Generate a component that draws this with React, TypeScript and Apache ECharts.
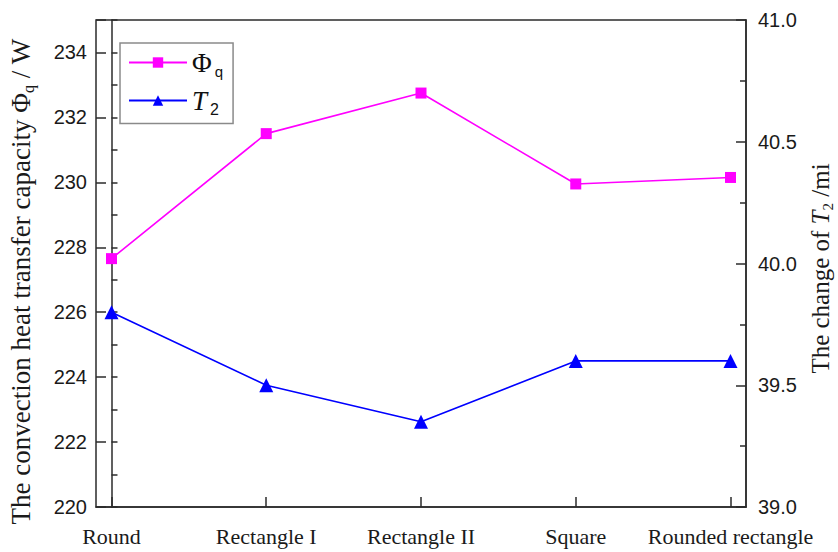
import React, { useEffect, useRef } from "react";
import * as echarts from "echarts";

const categories = ["Round", "Rectangle I", "Rectangle II", "Square", "Rounded rectangle"];
const phiValues = [227.65, 231.5, 232.75, 229.95, 230.15];
const t2Values = [39.8, 39.5, 39.35, 39.6, 39.6];
const leftTickLabels = [220, 222, 224, 226, 228, 230, 232, 234];
const rightTickLabels = ["39.0", "39.5", "40.0", "40.5", "41.0"];

const SERIF = "'Liberation Serif', 'Times New Roman', serif";
const SANS = "'Liberation Sans', Arial, sans-serif";
const AXIS_COLOR = "#2b2b2b";

export default function App() {
  const ref = useRef<HTMLDivElement>(null);
  useEffect(() => {
    if (!ref.current) return;
    const chart = echarts.init(ref.current, null, { renderer: "svg" });
    const catIdx = categories.map((_, i) => i);
    const option = {
      animation: false,
      backgroundColor: "#ffffff",
      grid: {
        left: 96,
        right: 92,
        top: 20,
        bottom: 45,
        containLabel: false,
        outerBoundsMode: "none",
        show: true,
        borderColor: AXIS_COLOR,
        borderWidth: 1.5,
        backgroundColor: "transparent",
      },
      legend: {
        orient: "vertical",
        left: 120,
        top: 43,
        padding: [6, 10, 6, 8],
        itemGap: 8,
        itemWidth: 58,
        itemHeight: 13,
        borderColor: "#8a8a8a",
        borderWidth: 1.5,
        backgroundColor: "#fff",
        data: ["Φq", "T2"],
        formatter: (name: string) =>
          name === "Φq" ? "{phi|Φ}{sub|q}" : "{t|T}{sub2|2}",
        textStyle: {
          rich: {
            phi: { fontFamily: SERIF, fontSize: 27, color: "#111" },
            sub: { fontFamily: SANS, fontSize: 15, color: "#111", padding: [18, 0, 0, 3] },
            t: { fontFamily: SERIF, fontStyle: "italic", fontSize: 27, color: "#111" },
            sub2: { fontFamily: SANS, fontSize: 16, color: "#111", padding: [18, 0, 0, 3] },
          },
        },
      },
      xAxis: {
        type: "value",
        min: -0.1,
        max: 4.1,
        splitLine: { show: false },
        axisLine: { show: true, lineStyle: { color: AXIS_COLOR, width: 1.5 } },
        axisTick: {
          show: true,
          inside: true,
          length: 10,
          customValues: catIdx,
          lineStyle: { color: AXIS_COLOR, width: 1.5 },
        },
        axisLabel: {
          customValues: catIdx,
          formatter: (v: number) => categories[Math.round(v)] ?? "",
          fontFamily: SERIF,
          fontSize: 22,
          color: "#1a1a1a",
          margin: 18,
        },
      },
      yAxis: [
        {
          type: "value",
          position: "left",
          min: 220,
          max: 235,
          interval: 1,
          name: "{a|The convection heat transfer capacity Φ}{s|q}{a| / W}",
          nameLocation: "middle",
          nameRotate: 90,
          nameGap: 60,
          nameMoveOverlap: false,
          nameTextStyle: {
            padding: [0, 36, 0, 0],
            rich: {
              a: { fontFamily: SERIF, fontSize: 27, color: "#1a1a1a" },
              s: { fontFamily: SERIF, fontSize: 16, color: "#1a1a1a", padding: [14, 0, 0, 0] },
            },
          },
          splitLine: { show: false },
          axisLine: { show: true, lineStyle: { color: AXIS_COLOR, width: 1.5 } },
          axisTick: { show: true, inside: true, length: 6, lineStyle: { color: AXIS_COLOR, width: 1.5 } },
          axisLabel: {
            formatter: (v: number) => (leftTickLabels.includes(v) ? String(v) : ""),
            fontFamily: SANS,
            fontSize: 20,
            color: "#1a1a1a",
            margin: 9,
          },
        },
        {
          type: "value",
          position: "right",
          min: 39,
          max: 41,
          interval: 0.5,
          name: "{a|The change of }{i|T}{s|2}{a| /mi}",
          nameLocation: "middle",
          nameRotate: 90,
          nameGap: 60,
          nameMoveOverlap: false,
          nameTextStyle: {
            padding: [0, 10, 0, 0],
            rich: {
              a: { fontFamily: SERIF, fontSize: 25, color: "#1a1a1a" },
              i: { fontFamily: SERIF, fontStyle: "italic", fontSize: 25, color: "#1a1a1a" },
              s: { fontFamily: SERIF, fontSize: 15, color: "#1a1a1a", padding: [14, 0, 0, 0] },
            },
          },
          splitLine: { show: false },
          axisLine: { show: true, lineStyle: { color: AXIS_COLOR, width: 1.5 } },
          axisTick: { show: true, inside: true, length: 10, lineStyle: { color: AXIS_COLOR, width: 1.5 } },
          minorTick: { show: true, splitNumber: 2, length: 6, lineStyle: { color: AXIS_COLOR, width: 1.5 } },
          minorSplitLine: { show: false },
          axisLabel: {
            formatter: (v: number) => {
              const s = v.toFixed(1);
              return rightTickLabels.includes(s) ? s : "";
            },
            fontFamily: SANS,
            fontSize: 20,
            color: "#1a1a1a",
            margin: 12,
          },
        },
        {
          type: "value",
          position: "left",
          min: 220,
          max: 235,
          interval: 2,
          splitLine: { show: false },
          axisLine: { show: false },
          axisTick: { show: true, inside: true, length: 10, lineStyle: { color: AXIS_COLOR, width: 1.5 } },
          axisLabel: { show: false },
        },
      ],
      series: [
        {
          name: "Φq",
          type: "line",
          yAxisIndex: 0,
          data: phiValues.map((v, i) => [i, v]),
          symbol: "rect",
          symbolSize: 11,
          lineStyle: { color: "#ff00ff", width: 1.6 },
          itemStyle: { color: "#ff00ff" },
        },
        {
          name: "T2",
          type: "line",
          yAxisIndex: 1,
          data: t2Values.map((v, i) => [i, v]),
          symbol: "triangle",
          symbolSize: 14,
          lineStyle: { color: "#0000ff", width: 1.6 },
          itemStyle: { color: "#0000ff" },
        },
      ],
    };
    chart.setOption(option as any);
    return () => chart.dispose();
  }, []);
  return <div ref={ref} style={{ width: 838, height: 552, position: "absolute", left: 0, top: 0 }} />;
}
